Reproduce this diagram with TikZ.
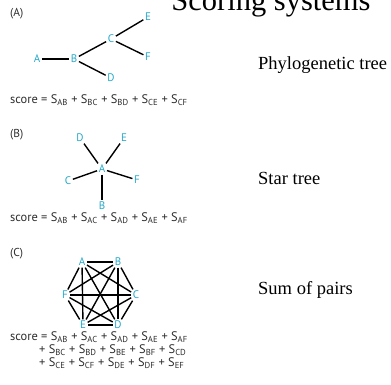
\documentclass[tikz,border=0pt]{standalone}
\usepackage{fontspec}
\setmainfont{Liberation Serif}
\newfontfamily\figfont{PT Sans}
\definecolor{taxon}{RGB}{38,168,200}
\definecolor{scoregray}{RGB}{45,45,45}
\newcommand{\pr}[1]{S\textsubscript{#1}}
\tikzset{
  taxon/.style={text=taxon, font=\figfont\fontsize{11}{11}\selectfont, inner sep=1.5pt},
  branch/.style={line width=1.4pt, black},
  score/.style={anchor=west, inner sep=0pt, text=scoregray, font=\figfont\fontsize{12.4}{13}\selectfont},
  panel/.style={anchor=west, inner sep=0pt, text=scoregray, font=\figfont\fontsize{11.5}{12}\selectfont},
  caption/.style={anchor=west, inner sep=0pt, font=\fontsize{18.5}{20}\selectfont}
}
\begin{document}
\begin{tikzpicture}[x=1pt, y=-1pt]
    \useasboundingbox (0,0) rectangle (391,384);
    \clip (0,0) rectangle (391,384);

    % titolo (tagliato in alto)
    \node[anchor=base, inner sep=0pt, font=\fontsize{30.5}{32}\selectfont] (title) at (271,10) {Scoring systems};

    % ----------------------------------------------------
    % (A) albero filogenetico
    % ----------------------------------------------------
    \node[panel] (labA) at (10,14) {(A)};
    \node[taxon] (a-A) at (37,59) {A};
    \node[taxon] (a-B) at (74,59) {B};
    \node[taxon] (a-C) at (111,39) {C};
    \node[taxon] (a-D) at (111,78) {D};
    \node[taxon] (a-E) at (148,17) {E};
    \node[taxon] (a-F) at (148,57) {F};
    \draw[branch] (a-A) -- (a-B);
    \draw[branch] (a-B) -- (a-C);
    \draw[branch] (a-B) -- (a-D);
    \draw[branch] (a-C) -- (a-E);
    \draw[branch] (a-C) -- (a-F);
    \node[score] (scoreA) at (10,100) {score = \pr{AB} + \pr{BC} + \pr{BD} + \pr{CE} + \pr{CF}};
    \node[caption] (capA) at (258,65) {Phylogenetic tree};

    % ----------------------------------------------------
    % (B) albero a stella
    % ----------------------------------------------------
    \node[panel] (labB) at (10,135) {(B)};
    \node[taxon] (b-A) at (102,169) {A};
    \node[taxon] (b-B) at (102,206) {B};
    \node[taxon] (b-C) at (68,181) {C};
    \node[taxon] (b-D) at (80,138) {D};
    \node[taxon] (b-E) at (124,138) {E};
    \node[taxon] (b-F) at (137,180) {F};
    \foreach \t in {B,C,D,E,F}
        \draw[branch] (b-A) -- (b-\t);
    \node[score] (scoreB) at (10,218) {score = \pr{AB} + \pr{AC} + \pr{AD} + \pr{AE} + \pr{AF}};
    \node[caption] (capB) at (258,178) {Star tree};

    % ----------------------------------------------------
    % (C) somma delle coppie
    % ----------------------------------------------------
    \node[panel] (labC) at (10,254) {(C)};
    \node[taxon] (c-A) at (82,262) {A};
    \node[taxon] (c-B) at (118,262) {B};
    \node[taxon] (c-C) at (136,295) {C};
    \node[taxon] (c-D) at (118,325) {D};
    \node[taxon] (c-E) at (83,325) {E};
    \node[taxon] (c-F) at (65,295) {F};
    % tutte le coppie
    \foreach \s/\t in {A/B,A/C,A/D,A/E,A/F,B/C,B/D,B/E,B/F,C/D,C/E,C/F,D/E,D/F,E/F}
        \draw[branch] (c-\s) -- (c-\t);
    \node[score] (scoreC1) at (10,337.5) {score = \pr{AB} + \pr{AC} + \pr{AD} + \pr{AE} + \pr{AF}};
    \node[score] (scoreC2) at (39,350.5) {+ \pr{BC} + \pr{BD} + \pr{BE} + \pr{BF} + \pr{CD}};
    \node[score] (scoreC3) at (39,363.5) {+ \pr{CE} + \pr{CF} + \pr{DE} + \pr{DF} + \pr{EF}};
    \node[caption] (capC) at (258,290) {Sum of pairs};

\end{tikzpicture}
\end{document}
